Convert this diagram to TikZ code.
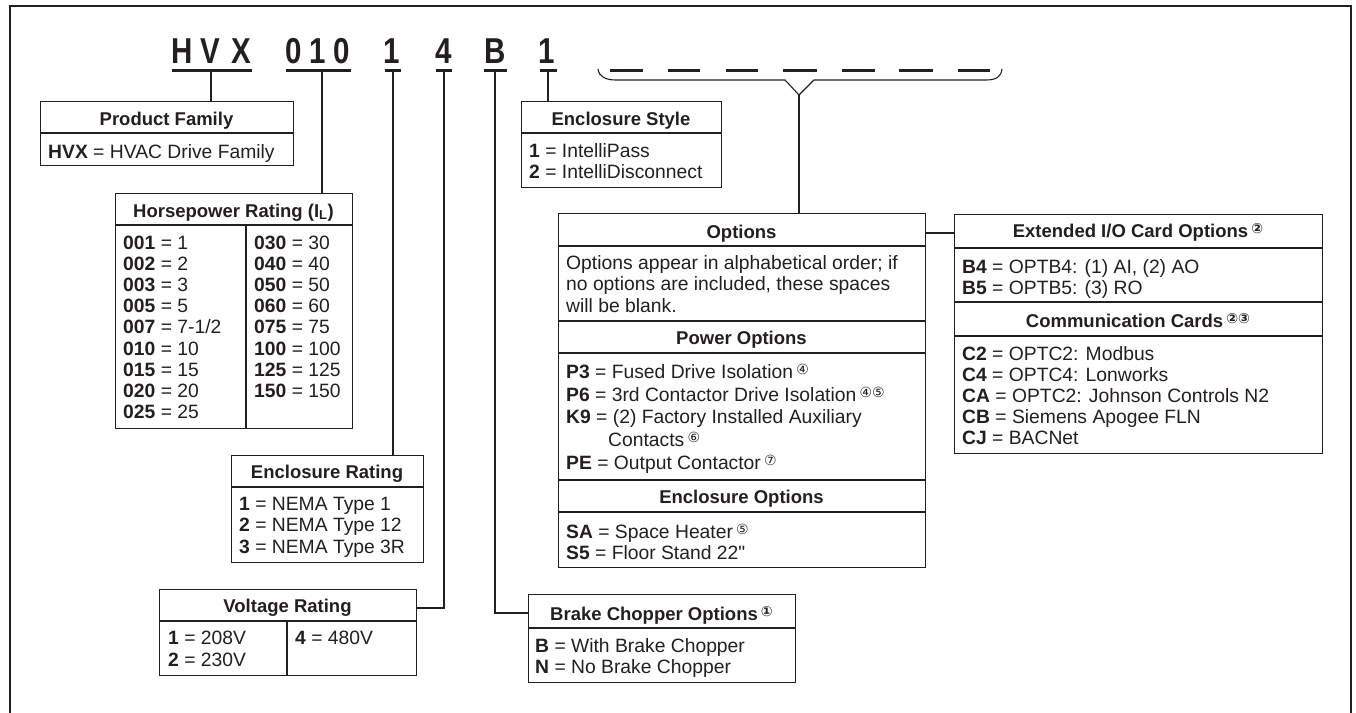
\documentclass[tikz,border=0pt]{standalone}
\usepackage{fontspec}
\setmainfont{Liberation Sans}[Ligatures=TeXOff]
\newfontfamily\djv{DejaVu Sans}
\definecolor{ink}{HTML}{231F20}
\newcommand{\cn}[1]{\,\raisebox{3.2pt}{\djv\fontsize{14}{14}\selectfont #1}}
\tikzset{
  box/.style={draw=ink, line width=1.4pt, anchor=north west, inner sep=0pt},
  sep/.style={draw=ink, line width=1.4pt},
  conn/.style={draw=ink, line width=1.4pt},
  ubar/.style={draw=ink, line width=3pt},
  brace/.style={draw=ink, line width=1.1pt},
  code/.style={anchor=base, inner sep=0pt, text=ink, xscale=0.82, transform shape,
    font=\bfseries\fontsize{36}{36}\selectfont},
  ttl/.style={anchor=base, inner sep=0pt, text=ink, font=\bfseries\fontsize{18.5}{21}\selectfont},
  txt/.style={anchor=base west, inner sep=0pt, text=ink, font=\fontsize{19.3}{21.5}\selectfont},
}
\begin{document}
\begin{tikzpicture}[x=1pt,y=-1pt]
\useasboundingbox (0,0) rectangle (1356,712);
\begin{scope}
\clip (0,0) rectangle (1356,712);
\draw[ink, line width=1.6pt] (10,6) rectangle (1351,730);
\end{scope}

% code characters
\node[code] (cH) at (182,63) {H};
\node[code] (cV) at (210,63) {V};
\node[code] (cX) at (241,63) {X};
\node[code] (c0a) at (294,63) {0};
\node[code] (c1a) at (318,63) {1};
\node[code] (c0b) at (342,63) {0};
\node[code] (c1b) at (392,63) {1};
\node[code] (c4) at (444,63) {4};
\node[code] (cB) at (495,63) {B};
\node[code] (c1c) at (547,63) {1};

% underlines
\draw[ubar] (172,70) -- (252,70);
\draw[ubar] (286,70) -- (351,70);
\draw[ubar] (385,70) -- (401,70);
\draw[ubar] (436,70) -- (452,70);
\draw[ubar] (484,70) -- (507,70);
\draw[ubar] (540,70) -- (557,70);
\coordinate (u1) at (211,70);
\coordinate (u2) at (322,70);
\coordinate (u3) at (393,70);
\coordinate (u4) at (444,70);
\coordinate (u5) at (495,70);
\coordinate (u6) at (548,70);

% blank option dashes
\foreach \a/\b in {610/643,668/700,726/758,783/817,842/875,899/933,958/990}
  \draw[ubar] (\a,70) -- (\b,70);

% brace
\draw[brace] (598,69) .. controls (599,77) and (606,80) .. (616,80) -- (785,80) -- (799,95) -- (814,80) -- (986,80)
  .. controls (996,80) and (1001,77) .. (1002,69);
\coordinate (bt) at (799,95);

% boxes
\node[box, minimum width=253pt, minimum height=64pt] (pf) at (40,101) {};
\node[box, minimum width=237pt, minimum height=235pt] (hp) at (115,193) {};
\node[box, minimum width=192pt, minimum height=107pt] (er) at (231,455) {};
\node[box, minimum width=257pt, minimum height=86pt] (vr) at (159,589) {};
\node[box, minimum width=200pt, minimum height=86pt] (es) at (521,101) {};
\node[box, minimum width=367pt, minimum height=354pt] (op) at (558,213) {};
\node[box, minimum width=267pt, minimum height=88pt] (bc) at (528,594) {};
\node[box, minimum width=368pt, minimum height=239pt] (ex) at (954,214) {};

% dividers
\draw[sep] (40,133) -- (293,133);
\draw[sep] (115,225) -- (352,225);
\draw[sep] (246,225) -- (246,428);
\draw[sep] (231,487) -- (423,487);
\draw[sep] (159,621) -- (416,621);
\draw[sep] (287,621) -- (287,675);
\draw[sep] (521,133) -- (721,133);
\draw[sep] (558,246) -- (925,246);
\draw[sep] (558,321) -- (925,321);
\draw[sep] (558,353) -- (925,353);
\draw[sep] (558,480) -- (925,480);
\draw[sep] (558,512) -- (925,512);
\draw[sep] (528,628) -- (795,628);
\draw[sep] (954,248) -- (1322,248);
\draw[sep] (954,302) -- (1322,302);
\draw[sep] (954,336) -- (1322,336);

% connectors
\draw[conn] (u1) -- (u1 |- pf.north);
\draw[conn] (u2) -- (u2 |- hp.north);
\draw[conn] (u3) -- (u3 |- er.north);
\draw[conn] (u4) |- (vr.east |- 0,608);
\draw[conn] (u5) |- (bc.west |- 0,613);
\draw[conn] (u6) -- (u6 |- es.north);
\draw[conn] (bt) -- (bt |- op.north);
\draw[conn] (op.east |- 0,233) -- (ex.west |- 0,233);

% Product Family
\node[ttl] (pft) at (166.5,125) {Product Family};
\node[txt] (pf1) at (48,158) {\textbf{HVX} = HVAC Drive Family};

% Horsepower
\node[ttl] (hpt) at (233.5,217) {Horsepower Rating (I\textsubscript{L})};
\node[txt] (hpa1) at (123,249) {\textbf{001} = 1};
\node[txt] (hpa2) at (123,270.2) {\textbf{002} = 2};
\node[txt] (hpa3) at (123,291.4) {\textbf{003} = 3};
\node[txt] (hpa4) at (123,312.6) {\textbf{005} = 5};
\node[txt] (hpa5) at (123,333.8) {\textbf{007} = 7-1/2};
\node[txt] (hpa6) at (123,355) {\textbf{010} = 10};
\node[txt] (hpa7) at (123,376.2) {\textbf{015} = 15};
\node[txt] (hpa8) at (123,397.4) {\textbf{020} = 20};
\node[txt] (hpa9) at (123,418.6) {\textbf{025} = 25};
\node[txt] (hpb1) at (254,249) {\textbf{030} = 30};
\node[txt] (hpb2) at (254,270.2) {\textbf{040} = 40};
\node[txt] (hpb3) at (254,291.4) {\textbf{050} = 50};
\node[txt] (hpb4) at (254,312.6) {\textbf{060} = 60};
\node[txt] (hpb5) at (254,333.8) {\textbf{075} = 75};
\node[txt] (hpb6) at (254,355) {\textbf{100} = 100};
\node[txt] (hpb7) at (254,376.2) {\textbf{125} = 125};
\node[txt] (hpb8) at (254,397.4) {\textbf{150} = 150};

% Enclosure Rating
\node[ttl] (ert) at (327,478) {Enclosure Rating};
\node[txt] (er1) at (239,510) {\textbf{1} = NEMA Type 1};
\node[txt] (er2) at (239,531.5) {\textbf{2} = NEMA Type 12};
\node[txt] (er3) at (239,553) {\textbf{3} = NEMA Type 3R};

% Voltage Rating
\node[ttl] (vrt) at (287.5,612) {Voltage Rating};
\node[txt] (vr1) at (168,644) {\textbf{1} = 208V};
\node[txt] (vr2) at (168,666) {\textbf{2} = 230V};
\node[txt] (vr4) at (295,644) {\textbf{4} = 480V};

% Enclosure Style
\node[ttl] (est) at (621,125) {Enclosure Style};
\node[txt] (es1) at (529,157) {\textbf{1} = IntelliPass};
\node[txt] (es2) at (529,178) {\textbf{2} = IntelliDisconnect};

% Options
\node[ttl] (opt) at (741.5,238) {Options};
\node[txt] (od1) at (566,269) {Options appear in alphabetical order; if};
\node[txt] (od2) at (566,290.5) {no options are included, these spaces};
\node[txt] (od3) at (566,312) {will be blank.};
\node[ttl] (pot) at (741.5,344) {Power Options};
\node[txt] (po1) at (566,378) {\textbf{P3} = Fused Drive Isolation\cn{④}};
\node[txt] (po2) at (566,401) {\textbf{P6} = 3rd Contactor Drive Isolation\cn{④⑤}};
\node[txt] (po3) at (566,423) {\textbf{K9} = (2) Factory Installed Auxiliary};
\node[txt] (po4) at (608,446) {Contacts\cn{⑥}};
\node[txt] (po5) at (566,469) {\textbf{PE} = Output Contactor\cn{⑦}};
\node[ttl] (eot) at (741.5,503) {Enclosure Options};
\node[txt] (eo1) at (566,538) {\textbf{SA} = Space Heater\cn{⑤}};
\node[txt] (eo2) at (566,559) {\textbf{S5} = Floor Stand 22"};

% Brake Chopper
\node[ttl] (bct) at (661.5,620) {Brake Chopper Options\cn{①}};
\node[txt] (bc1) at (535,652) {\textbf{B} = With Brake Chopper};
\node[txt] (bc2) at (535,673) {\textbf{N} = No Brake Chopper};

% Extended I/O
\node[ttl] (ext) at (1138,237) {Extended I/O Card Options\cn{②}};
\node[txt] (ex1) at (962,273) {\textbf{B4} = OPTB4: (1) AI, (2) AO};
\node[txt] (ex2) at (962,294) {\textbf{B5} = OPTB5: (3) RO};
\node[ttl] (cct) at (1138,327) {Communication Cards\cn{②③}};
\node[txt] (cc1) at (962,360) {\textbf{C2} = OPTC2: Modbus};
\node[txt] (cc2) at (962,381) {\textbf{C4} = OPTC4: Lonworks};
\node[txt] (cc3) at (962,402) {\textbf{CA} = OPTC2: Johnson Controls N2};
\node[txt] (cc4) at (962,423) {\textbf{CB} = Siemens Apogee FLN};
\node[txt] (cc5) at (962,444) {\textbf{CJ} = BACNet};
\end{tikzpicture}
\end{document}
